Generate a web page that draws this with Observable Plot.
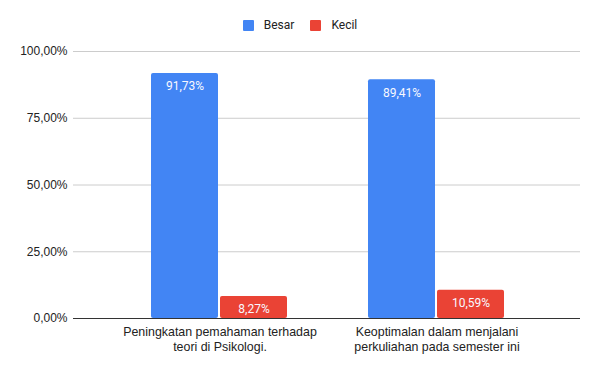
<!DOCTYPE html>
<html><head><meta charset="utf-8">
<script src="https://cdn.jsdelivr.net/npm/d3@7"></script>
<script src="https://cdn.jsdelivr.net/npm/@observablehq/plot@0.6"></script>
<style>
body{margin:0;background:#fff;width:600px;overflow:hidden;}
#legend{height:40px;display:flex;justify-content:center;align-items:center;font-family:Roboto,sans-serif;font-size:12px;color:#222;padding-top:10px;box-sizing:border-box;}
#legend .item{display:flex;align-items:center;margin:0 8px;}
#legend .sw{width:11px;height:11px;border-radius:1px;margin-right:10px;}
#chart{position:relative;width:600px;height:331px;}
#chart svg{position:absolute;left:0;top:0;}
</style>
</head><body>
<div id="legend"></div>
<div id="chart"></div>
<script>
const categories = ["Peningkatan pemahaman terhadap\nteori di Psikologi.", "Keoptimalan dalam menjalani\nperkuliahan pada semester ini"];
const series = ["Besar", "Kecil"];
const besar = [91.73, 89.41];
const kecil = [8.27, 10.59];
const yTicks = [0, 25, 50, 75, 100];
const colors = ["#4285F4", "#EA4335"];

const data = categories.flatMap((c, i) => [
  {cat: c, s: "Besar", v: besar[i]},
  {cat: c, s: "Kecil", v: kecil[i]}
]);
const fmt = v => v.toFixed(2).replace(".", ",") + "%";

const legend = document.getElementById("legend");
series.forEach((s, i) => {
  const it = document.createElement("div");
  it.className = "item";
  it.innerHTML = `<span class="sw" style="background:${colors[i]}"></span><span>${s}</span>`;
  legend.appendChild(it);
});

const common = {
  width: 600, height: 331,
  marginTop: 11, marginBottom: 53, marginLeft: 73, marginRight: 20,
  style: {fontFamily: "'Liberation Sans', Arial, sans-serif", fontSize: "12px", color: "#222", background: "transparent"}
};

// background layer: grid, y axis, baseline
const back = Plot.plot({
  ...common,
  style: {...common.style, background: "#fff"},
  y: {domain: [0, 100]},
  marks: [
    Plot.ruleY(yTicks.filter(d => d > 0), {stroke: "#cccccc", strokeWidth: 1}),
    Plot.axisY(yTicks, {tickSize: 0, tickPadding: 6, tickFormat: fmt, label: null, fill: "#222", fontSize: 12}),
    Plot.ruleY([0], {stroke: "#333333", strokeWidth: 1})
  ]
});

// foreground layer: grouped bars
const front = Plot.plot({
  ...common,
  fx: {domain: categories, paddingInner: 0, paddingOuter: 0.168, align: 0.514, label: null},
  x: {domain: series, paddingInner: 0.02857, paddingOuter: 0.5643, axis: null},
  y: {domain: [0, 100], axis: null},
  color: {domain: series, range: colors},
  marks: [
    Plot.barY(data, {fx: "cat", x: "s", y: "v", fill: "s", rx: 2}),
    Plot.text(data, {fx: "cat", x: "s", y: "v", text: d => fmt(d.v), dy: 13, fill: "#f8f8ff", fontFamily: "Roboto, sans-serif", fontSize: 12}),
    Plot.axisFx({anchor: "bottom", tickSize: 0, tickPadding: 7, lineHeight: 1.22, label: null, fill: "#222", fontSize: 12.4})
  ]
});
const chart = document.getElementById("chart");
chart.appendChild(back);
chart.appendChild(front);
</script>
</body></html>
